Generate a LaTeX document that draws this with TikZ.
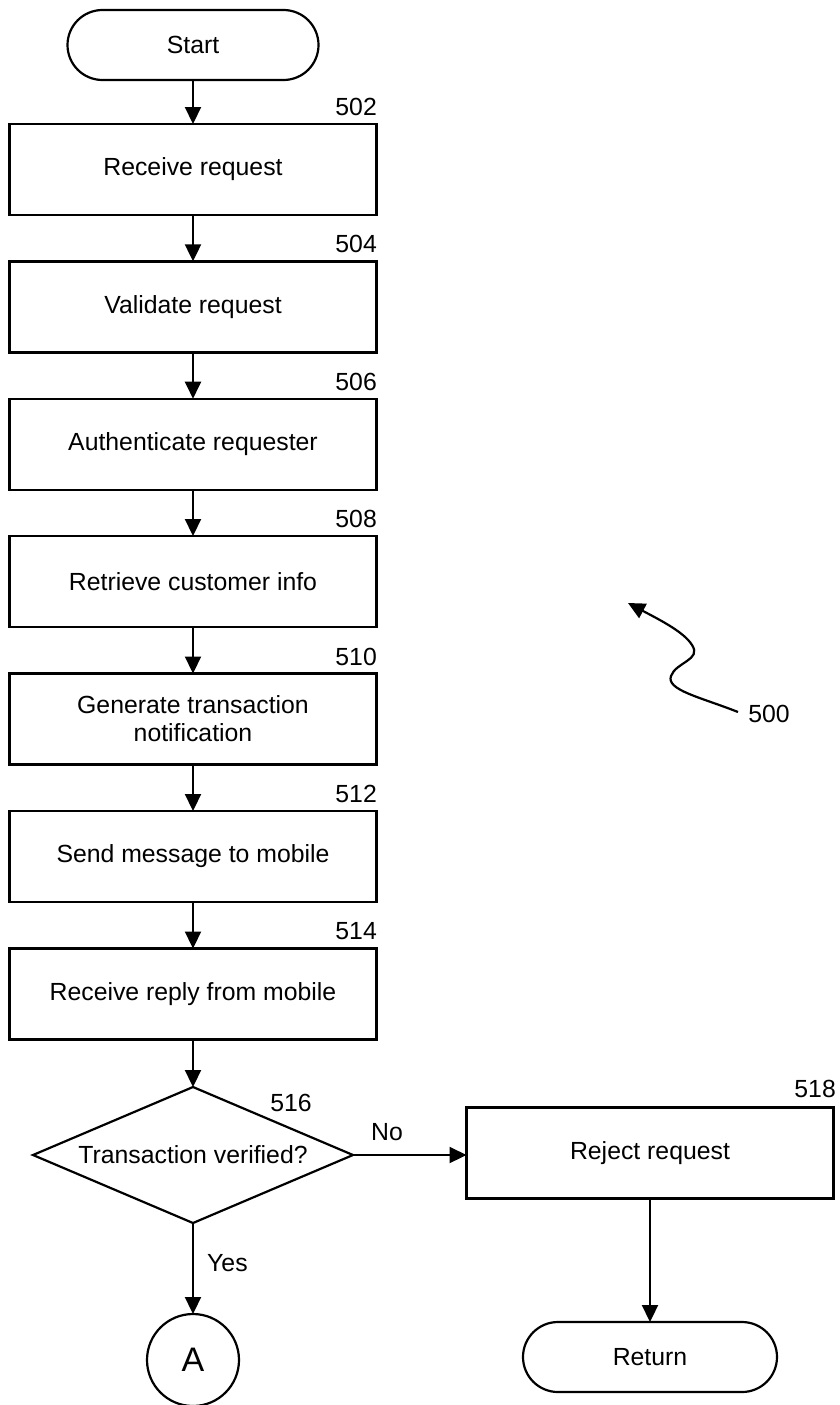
\documentclass[tikz,border=0pt]{standalone}
\usepackage{fontspec}
\setmainfont{Liberation Sans}
\usetikzlibrary{shapes.geometric,arrows.meta}
\begin{document}
\begin{tikzpicture}[x=1pt,y=-1pt,
  every node/.style={font=\fontsize{24.8}{28}\selectfont},
  stepbox/.style={draw,line width=2.4pt,minimum width=367pt,minimum height=91pt,inner sep=0pt,outer sep=0pt,align=center},
  pill/.style={draw,line width=2.2pt,rounded corners=35pt,minimum height=70pt,inner sep=0pt,outer sep=0pt},
  decision/.style={draw,line width=2.2pt,diamond,shape aspect=2.35,minimum width=320pt,minimum height=136pt,inner sep=0pt,outer sep=0pt},
  conn/.style={circle,draw,line width=2.2pt,minimum size=92pt,inner sep=0pt,outer sep=0pt},
  ref/.style={inner sep=0pt,anchor=base east},
  flow/.style={line width=2.2pt,-{Triangle[length=17pt,width=16pt]}}
]
\useasboundingbox (0,0) rectangle (840,1405);
\node[pill,minimum width=251pt] (start) at (193,45) {Start};
\node[stepbox] (b502) at (193,169.5) {Receive request};
\node[stepbox] (b504) at (193,306.8) {Validate request};
\node[stepbox] (b506) at (193,444.2) {Authenticate requester};
\node[stepbox] (b508) at (193,581.5) {Retrieve customer info};
\node[stepbox] (b510) at (193,719) {Generate transaction\\notification};
\node[stepbox] (b512) at (193,856.5) {Send message to mobile};
\node[stepbox] (b514) at (193,994) {Receive reply from mobile};
\node[decision] (d516) at (193,1155) {Transaction verified?};
\node[stepbox] (b518) at (650,1153) {Reject request};
\node[conn] (ca) at (193,1360) {\fontsize{34}{38}\selectfont A};
\node[pill,minimum width=254pt] (ret) at (650,1357) {Return};

\node[ref] (l502) at (377,115) {502};
\node[ref] (l504) at (377,252) {504};
\node[ref] (l506) at (377,390) {506};
\node[ref] (l508) at (377,527) {508};
\node[ref] (l510) at (377,665) {510};
\node[ref] (l512) at (377,802) {512};
\node[ref] (l514) at (377,939) {514};
\node[ref] (l518) at (836,1097) {518};
\node[inner sep=0pt] (l516) at (291,1103) {516};
\node[inner sep=0pt] (lno) at (387,1132) {No};
\node[inner sep=0pt,anchor=west] (lyes) at (207,1263) {Yes};
\node[inner sep=0pt] (l500) at (769,714) {500};

\draw[flow] (start) -- (b502);
\draw[flow] (b502) -- (b504);
\draw[flow] (b504) -- (b506);
\draw[flow] (b506) -- (b508);
\draw[flow] (b508) -- (b510);
\draw[flow] (b510) -- (b512);
\draw[flow] (b512) -- (b514);
\draw[flow] (b514) -- (d516);
\draw[flow] (d516.east) -- (d516.east -| b518.west);
\draw[flow] (d516) -- (ca);
\draw[flow] (b518.south -| ret.north) -- (ret.north);

\coordinate (w0) at (738,712);
\coordinate (w1) at (628,603);
\draw[line width=2.2pt,-{Triangle[length=17pt,width=16pt]}] (w0) .. controls (700,697) and (666,690) .. (671,676) .. controls (676,662) and (702,660) .. (692,645) .. controls (684,632) and (660,620) .. (w1);
\end{tikzpicture}
\end{document}
